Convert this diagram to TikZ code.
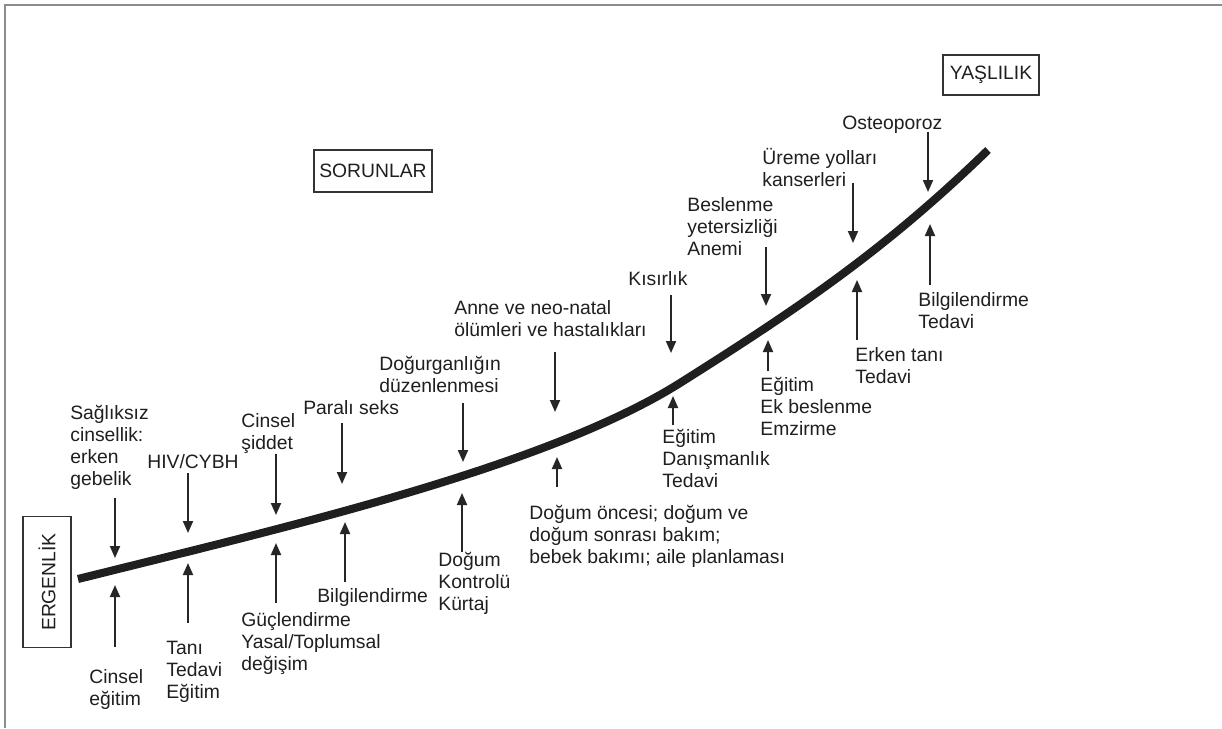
\documentclass[tikz,border=0pt]{standalone}
\usepackage{fontspec}
\setmainfont{Liberation Sans}
\usetikzlibrary{arrows.meta}
\begin{document}
\begin{tikzpicture}[x=0.02cm,y=-0.02cm,
  lbl/.style={inner sep=0pt, anchor=base west, align=left, font=\fontsize{11}{12.5}\selectfont, text=black!88},
  arr/.style={line width=1.1pt, draw=black!85, -{Triangle[length=0.24cm,width=0.2cm]}},
  stage/.style={draw=black!80, line width=0.8pt, inner sep=0pt, font=\fontsize{11}{12.5}\selectfont, text=black!88}
]
\useasboundingbox (0,0) rectangle (1222,728);
\fill[white] (0,0) rectangle (1222,728);
\draw[black!45, line width=0.6pt] (5,728) -- (5,5) -- (1222,5);

% stage boxes
\node[stage, minimum width=2.36cm, minimum height=0.84cm] (sorun) at (373,171) {SORUNLAR};
\node[stage, minimum width=1.92cm, minimum height=0.80cm] (yasli) at (991,75) {YAŞLILIK};
\node[stage, rotate=90, minimum width=2.62cm, minimum height=0.96cm] (ergen) at (47,582) {ERGENLİK};

% life curve
\coordinate (cstart) at (78,579);
\coordinate (cmid) at (680,383);
\coordinate (cend) at (988,150);
\draw[line width=4.6pt, black!88] (cstart) .. controls (278,529) and (545,468) .. (cmid)
  .. controls (805,304.25) and (888,247) .. (cend);

% problems (above); anchor = baseline of last line
\node[lbl] (p1) at (70,485) {Sağlıksız\\cinsellik:\\erken\\gebelik};
\node[lbl] (p2) at (147,468) {HIV/CYBH};
\node[lbl] (p3) at (241,449) {Cinsel\\şiddet};
\node[lbl] (p4) at (303,414) {Paralı seks};
\node[lbl] (p5) at (379,392) {Doğurganlığın\\düzenlenmesi};
\node[lbl] (p6) at (454,336) {Anne ve neo-natal\\ölümleri ve hastalıkları};
\node[lbl] (p7) at (628,285) {Kısırlık};
\node[lbl] (p8) at (687,255) {Beslenme\\yetersizliği\\Anemi};
\node[lbl] (p9) at (762,186) {Üreme yolları\\kanserleri};
\node[lbl] (p10) at (842,129) {Osteoporoz};

% solutions (below)
\node[lbl] (s1) at (89,705) {Cinsel\\eğitim};
\node[lbl] (s2) at (166,698) {Tanı\\Tedavi\\Eğitim};
\node[lbl] (s3) at (241,670) {Güçlendirme\\Yasal/Toplumsal\\değişim};
\node[lbl] (s4) at (317,602) {Bilgilendirme};
\node[lbl] (s5) at (438,610) {Doğum\\Kontrolü\\Kürtaj};
\node[lbl] (s6) at (529,563) {Doğum öncesi; doğum ve\\doğum sonrası bakım;\\bebek bakımı; aile planlaması};
\node[lbl] (s7) at (662,487) {Eğitim\\Danışmanlık\\Tedavi};
\node[lbl] (s8) at (760,435) {Eğitim\\Ek beslenme\\Emzirme};
\node[lbl] (s9) at (855,383) {Erken tanı\\Tedavi};
\node[lbl] (s10) at (918,328) {Bilgilendirme\\Tedavi};

% arrow end points
\coordinate (pa1) at (115,498); \coordinate (pb1) at (115,558);
\coordinate (pa2) at (188,473); \coordinate (pb2) at (188,533);
\coordinate (pa3) at (276,454); \coordinate (pb3) at (276,515);
\coordinate (pa4) at (342,423); \coordinate (pb4) at (342,484);
\coordinate (pa5) at (463,403); \coordinate (pb5) at (463,462);
\coordinate (pa6) at (555,352); \coordinate (pb6) at (555,412);
\coordinate (pa7) at (671,295); \coordinate (pb7) at (671,353);
\coordinate (pa8) at (766,247); \coordinate (pb8) at (766,306);
\coordinate (pa9) at (853,183); \coordinate (pb9) at (853,243);
\coordinate (pa10) at (928,132); \coordinate (pb10) at (928,192);

\coordinate (sa1) at (115,647); \coordinate (sb1) at (115,585);
\coordinate (sa2) at (188,623); \coordinate (sb2) at (188,563);
\coordinate (sa3) at (276,603); \coordinate (sb3) at (276,543);
\coordinate (sa4) at (345,582); \coordinate (sb4) at (345,522);
\coordinate (sa5) at (462,552); \coordinate (sb5) at (462,493);
\coordinate (sa6) at (557,487); \coordinate (sb6) at (557,457);
\coordinate (sa7) at (673,425); \coordinate (sb7) at (673,396);
\coordinate (sa8) at (768,371); \coordinate (sb8) at (768,340);
\coordinate (sa9) at (857,340); \coordinate (sb9) at (857,280);
\coordinate (sa10) at (930,285); \coordinate (sb10) at (930,224);

\foreach \i in {1,...,10} {
  \draw[arr] (pa\i) -- (pb\i);
  \draw[arr] (sa\i) -- (sb\i);
}
\end{tikzpicture}
\end{document}
